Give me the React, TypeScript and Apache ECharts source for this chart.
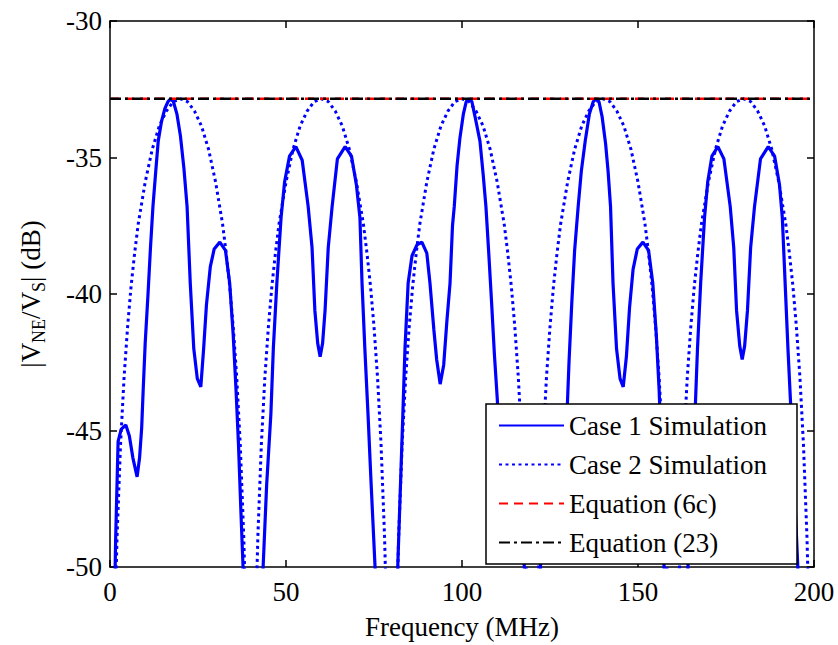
import React, { useEffect, useRef } from "react";
import * as echarts from "echarts";

const xTicks = [0, 50, 100, 150, 200];
const yTicks = [-50, -45, -40, -35, -30];
const seriesNames = ["Case 1 Simulation", "Case 2 Simulation", "Equation (6c)", "Equation (23)"];

// Case 1 simulation (solid)
const case1Freq = [
  1.2, 1.6, 2.3, 3.2, 4.5, 5.5, 6.5, 7.7, 8.4, 9.0, 9.4, 10.0, 10.8, 11.5, 12.2, 13.0, 13.7, 14.6, 15.6, 16.5,
  17.2, 18.0, 19.0, 20.0, 21.0, 21.9, 22.8, 23.8, 24.8, 25.8, 26.6, 27.4, 28.5, 29.6, 31.2, 32.8, 34.0, 35.0, 35.8, 36.5,
  37.2, 37.8, 38.5, 40.0, 42.0, 43.0, 43.5, 44.5, 45.7, 46.4, 47.4, 48.6, 49.6, 51.0, 52.8, 54.6, 56.3, 57.4, 58.2, 59.0,
  59.7, 60.4, 61.1, 62.0, 63.1, 64.6, 66.8, 68.6, 70.0, 71.0, 71.6, 72.4, 73.3, 74.2, 75.3, 76.0, 78.0, 80.5, 81.5, 82.0,
  83.2, 83.8, 84.7, 85.8, 87.2, 88.6, 90.0, 90.9, 92.0, 92.8, 93.8, 94.8, 95.7, 96.6, 97.3, 97.8, 98.6, 99.4, 100.4, 101.2,
  102.0, 102.8, 103.7, 105.1, 106.0, 106.8, 107.6, 108.4, 109.2, 110.0, 110.7, 111.5, 112.3, 113.5, 114.7, 115.8, 116.8, 117.7, 118.5, 120.0,
  121.5, 122.3, 123.2, 124.2, 125.3, 126.5, 127.5, 128.5, 129.2, 129.8, 130.4, 131.2, 132.0, 133.0, 133.9, 135.0, 136.2, 137.3, 138.1, 138.9,
  139.8, 140.8, 141.5, 142.2, 142.9, 143.9, 144.9, 145.8, 146.7, 147.6, 148.6, 149.8, 151.4, 153.0, 154.2, 155.2, 156.0, 156.7, 157.4, 158.2,
  160.0, 162.5, 163.6, 164.2, 165.2, 166.2, 166.9, 167.8, 168.9, 169.8, 171.0, 172.7, 174.4, 176.2, 177.2, 178.0, 178.9, 179.6, 180.3, 181.1,
  182.0, 183.1, 184.8, 187.0, 188.8, 190.2, 191.0, 191.8, 192.6, 193.5, 194.4, 195.4, 196.2, 198.0, 200.0,
];
const case1Db = [
  -52, -49, -45.4, -44.95, -44.8, -45.2, -46, -46.7, -46, -44.9, -43.6, -41.8, -40, -38.3, -36.8, -35.5, -34.4, -33.7, -33.2, -32.95,
  -32.85, -32.95, -33.4, -34.2, -35.4, -36.8, -39.6, -42, -43.1, -43.4, -42, -40.4, -39.0, -38.35, -38.1, -38.4, -39.6, -41.5, -43.5, -45.5,
  -48, -50, -54, -60, -58, -52, -50, -47, -44.4, -42, -39.6, -37.2, -35.9, -34.95, -34.6, -35.1, -36.8, -38.3, -40.6, -41.8,
  -42.3, -41.8, -40.6, -38.3, -36.8, -35.05, -34.6, -34.95, -36, -37.2, -39.6, -42, -44.4, -47, -50, -54, -60, -56, -51, -49,
  -44.4, -42, -39.6, -38.6, -38.2, -38.1, -38.5, -39.6, -41.3, -42.4, -43.3, -42.6, -41.0, -39.6, -37.5, -36.8, -35.3, -34.3, -33.4, -32.95,
  -32.85, -32.95, -33.5, -34.4, -35.6, -36.8, -38.5, -40.3, -42.2, -43.8, -45.5, -46.7, -46, -45, -44.8, -45.2, -47, -50, -54, -60,
  -53, -50, -45.3, -44.9, -44.8, -45.3, -46, -46.7, -46, -44.5, -42.5, -40.3, -38.4, -36.8, -35.5, -34.4, -33.4, -32.95, -32.85, -32.95,
  -33.5, -34.5, -35.5, -36.8, -39.6, -42, -43.1, -43.4, -42.3, -40.5, -39.1, -38.35, -38.1, -38.4, -39.6, -41.5, -43.5, -46, -50, -55,
  -60, -56, -52, -50, -47, -44.4, -42, -39.6, -37.2, -35.9, -34.95, -34.6, -35.05, -36.8, -38.3, -40.6, -41.9, -42.4, -41.9, -40.6,
  -38.3, -36.8, -35.05, -34.6, -34.95, -36, -37.2, -39.6, -42, -44.4, -47, -50, -54, -60, -58,
];

// Case 2 simulation (dotted)
const case2Freq = [
  0.8, 1.5, 2, 3, 4, 5, 6, 7, 8, 10, 12, 14, 16, 18, 20, 22, 24, 26, 28, 30, 32, 33, 34, 35, 36, 37, 38, 38.5, 39.2,
  40.8, 41.5, 42, 43, 44, 45, 46, 47, 48, 50, 52, 54, 56, 58, 60, 62, 64, 66, 68, 70, 72, 73, 74, 75, 76, 77, 78, 78.5, 79.2,
  80.8, 81.5, 82, 83, 84, 85, 86, 87, 88, 90, 92, 94, 96, 98, 100, 102, 104, 106, 108, 110, 112, 113, 114, 115, 116, 117, 118, 118.5, 119.2,
  120.8, 121.5, 122, 123, 124, 125, 126, 127, 128, 130, 132, 134, 136, 138, 140, 142, 144, 146, 148, 150, 152, 153, 154, 155, 156, 157, 158, 158.5, 159.2,
  160.8, 161.5, 162, 163, 164, 165, 166, 167, 168, 170, 172, 174, 176, 178, 180, 182, 184, 186, 188, 190, 192, 193, 194, 195, 196, 197, 198, 198.5, 199.2,
];
const case2Db = [
  -56, -51.4, -48.9, -45.5, -43.05, -41.2, -39.7, -38.5, -37.45, -35.9, -34.7, -33.85, -33.3, -32.95, -32.85, -32.95, -33.3, -33.85, -34.7, -35.9, -37.45, -38.5, -39.7, -41.2, -43.05, -45.5, -48.9, -51.4, -56,
  -56, -51.4, -48.9, -45.5, -43.05, -41.2, -39.7, -38.5, -37.45, -35.9, -34.7, -33.85, -33.3, -32.95, -32.85, -32.95, -33.3, -33.85, -34.7, -35.9, -37.45, -38.5, -39.7, -41.2, -43.05, -45.5, -48.9, -51.4, -56,
  -56, -51.4, -48.9, -45.5, -43.05, -41.2, -39.7, -38.5, -37.45, -35.9, -34.7, -33.85, -33.3, -32.95, -32.85, -32.95, -33.3, -33.85, -34.7, -35.9, -37.45, -38.5, -39.7, -41.2, -43.05, -45.5, -48.9, -51.4, -56,
  -56, -51.4, -48.9, -45.5, -43.05, -41.2, -39.7, -38.5, -37.45, -35.9, -34.7, -33.85, -33.3, -32.95, -32.85, -32.95, -33.3, -33.85, -34.7, -35.9, -37.45, -38.5, -39.7, -41.2, -43.05, -45.5, -48.9, -51.4, -56,
  -56, -51.4, -48.9, -45.5, -43.05, -41.2, -39.7, -38.5, -37.45, -35.9, -34.7, -33.85, -33.3, -32.95, -32.85, -32.95, -33.3, -33.85, -34.7, -35.9, -37.45, -38.5, -39.7, -41.2, -43.05, -45.5, -48.9, -51.4, -56,
];

// Analytical maxima (horizontal lines)
const eq6cFreq = [0, 200];
const eq6cDb = [-32.85, -32.85];
const eq23Freq = [0, 200];
const eq23Db = [-32.85, -32.85];

const zip = (xs: number[], ys: number[]) => xs.map((x, i) => [x, ys[i]]);

const FONT = "Liberation Serif";

export default function App() {
  const ref = useRef<HTMLDivElement>(null);
  useEffect(() => {
    if (!ref.current) return;
    const chart = echarts.init(ref.current, null, { renderer: "svg" });
    const axisLine = { show: true, onZero: false, lineStyle: { color: "#000", width: 1.5 } };
    const tick = { show: true, inside: true, length: 7, lineStyle: { color: "#000", width: 1.5 } };
    const xBase = {
      type: "value" as const,
      min: xTicks[0],
      max: xTicks[xTicks.length - 1],
      interval: xTicks[1] - xTicks[0],
      splitLine: { show: false },
      axisLine,
      axisTick: tick,
    };
    const yBase = {
      type: "value" as const,
      min: yTicks[0],
      max: yTicks[yTicks.length - 1],
      interval: yTicks[1] - yTicks[0],
      splitLine: { show: false },
      axisLine,
      axisTick: tick,
    };
    chart.setOption({
      animation: false,
      backgroundColor: "#fff",
      textStyle: { fontFamily: FONT },
      grid: { left: 110, right: 24, top: 21, bottom: 69, containLabel: false },
      xAxis: [
        {
          ...xBase,
          position: "bottom",
          axisLabel: { color: "#000", fontSize: 27, fontFamily: FONT, margin: 11 },
          name: "Frequency (MHz)",
          nameLocation: "middle",
          nameGap: 46,
          nameTextStyle: { color: "#000", fontSize: 27, fontFamily: FONT },
        },
        { ...xBase, position: "top", axisLabel: { show: false } },
      ],
      yAxis: [
        {
          ...yBase,
          position: "left",
          axisLabel: { color: "#000", fontSize: 27, fontFamily: FONT, margin: 8 },
          name: "|V{sub|NE}/V{sub|S}| (dB)",
          nameLocation: "middle",
          nameGap: 62,
          nameTextStyle: {
            color: "#000",
            fontSize: 27,
            fontFamily: FONT,
            rich: { sub: { fontSize: 18, fontFamily: FONT, color: "#000", padding: [16, 0, 0, 0] } },
          },
        },
        { ...yBase, position: "right", axisLabel: { show: false } },
      ],
      legend: {
        data: seriesNames,
        orient: "vertical",
        left: 486,
        top: 404,
        itemWidth: 65,
        itemHeight: 14,
        itemGap: 12,
        padding: [8, 30, 8, 12],
        backgroundColor: "#fff",
        borderColor: "#000",
        borderWidth: 1.5,
        borderRadius: 0,
        itemStyle: { opacity: 0 },
        textStyle: { color: "#000", fontSize: 27, fontFamily: FONT },
        z: 10,
      },
      series: [
        {
          name: seriesNames[0],
          type: "line",
          data: zip(case1Freq, case1Db),
          symbol: "none",
          lineStyle: { color: "#0000ff", width: 3.2 },
          itemStyle: { color: "#0000ff" },
          z: 3,
        },
        {
          name: seriesNames[1],
          type: "line",
          data: zip(case2Freq, case2Db),
          symbol: "none",
          lineStyle: { color: "#0000ff", width: 3, type: [3, 3.5] },
          itemStyle: { color: "#0000ff" },
          z: 3,
        },
        {
          name: seriesNames[2],
          type: "line",
          data: zip(eq6cFreq, eq6cDb),
          symbol: "none",
          lineStyle: { color: "#ff0000", width: 2.5, type: [9, 6] },
          itemStyle: { color: "#ff0000" },
          z: 4,
        },
        {
          name: seriesNames[3],
          type: "line",
          data: zip(eq23Freq, eq23Db),
          symbol: "none",
          lineStyle: { color: "#000", width: 2.5, type: [11, 4, 3, 4] },
          itemStyle: { color: "#000" },
          z: 5,
        },
      ],
    });
    return () => chart.dispose();
  }, []);
  return (
    <div
      ref={ref}
      style={{ position: "fixed", left: 0, top: 0, width: 838, height: 645, background: "#fff" }}
    />
  );
}
